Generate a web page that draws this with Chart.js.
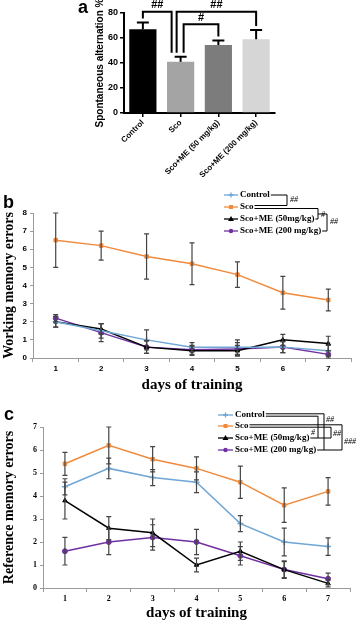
<!DOCTYPE html>
<html>
<head>
<meta charset="utf-8">
<script src="https://cdn.jsdelivr.net/npm/chart.js@4.4.1/dist/chart.umd.min.js"></script>
<style>
  body { margin: 0; background: #fff; width: 358px; height: 623px; position: relative; overflow: hidden; }
  canvas { position: absolute; left: 0; }
  .lbl { position: absolute; font: bold 18px "Liberation Sans", Arial, sans-serif; color: #000; }
</style>
</head>
<body>
<canvas id="chartA" width="358" height="185" style="top:0"></canvas>
<canvas id="chartB" width="358" height="210" style="top:185px"></canvas>
<canvas id="chartC" width="358" height="223" style="top:400px"></canvas>
<div class="lbl" style="left:78px;top:-3px">a</div>
<div class="lbl" style="left:3px;top:192px">b</div>
<div class="lbl" style="left:4px;top:404px">c</div>
<script>
// panel a - spontaneous alternation
const groups = ["Control", "Sco", "Sco+ME (50 mg/kg)", "Sco+ME (200 mg/kg)"];
const altMean = [67, 41, 54.5, 59];
const altErr = [5.5, 4, 3.5, 7.5];
const altTicks = [0, 20, 40, 60, 80];

// panels b, c
const days = ["1", "2", "3", "4", "5", "6", "7"];
const seriesNames = ["Control", "Sco", "Sco+ME (50mg/kg)", "Sco+ME (200 mg/kg)"];

const wmControl = [2.0, 1.5, 1.0, 0.6, 0.6, 0.6, 0.4];
const wmSco = [6.5, 6.2, 5.6, 5.2, 4.6, 3.6, 3.2];
const wmMe50 = [2.0, 1.6, 0.6, 0.4, 0.4, 1.0, 0.8];
const wmMe200 = [2.2, 1.4, 0.6, 0.45, 0.5, 0.6, 0.2];
const wmControlErr = [0.3, 0.4, 0.55, 0.25, 0.4, 0.3, 0.3];
const wmScoErr = [1.5, 0.8, 1.25, 1.15, 0.7, 0.9, 0.6];
const wmMe50Err = [0.3, 0.3, 0.35, 0.25, 0.3, 0.3, 0.4];
const wmMe200Err = [0.2, 0.5, 0.35, 0.25, 0.35, 0.3, 0.2];

const rmControl = [4.4, 5.2, 4.8, 4.6, 2.8, 2.0, 1.8];
const rmSco = [5.4, 6.2, 5.6, 5.2, 4.6, 3.6, 4.2];
const rmMe50 = [3.8, 2.6, 2.4, 1.0, 1.6, 0.8, 0.2];
const rmMe200 = [1.6, 2.0, 2.2, 2.0, 1.4, 0.8, 0.4];
const rmControlErr = [0.35, 0.45, 0.35, 0.45, 0.35, 0.6, 0.38];
const rmScoErr = [0.5, 0.8, 0.55, 0.5, 0.7, 0.75, 0.6];
const rmMe50Err = [0.8, 0.5, 0.6, 0.3, 0.4, 0.38, 0.15];
const rmMe200Err = [0.6, 0.55, 0.55, 0.55, 0.4, 0.35, 0.25];

const colors = ["#6fa6d6", "#f08a3c", "#000000", "#7030a0"];
const markers = ["cross", "rect", "triangle", "circle"];

const sans = '"Liberation Sans", Arial, sans-serif';
const serif = '"Liberation Serif", "Times New Roman", serif';

// error bars drawn from each dataset's err array
const errorBars = {
  id: "errorBars",
  afterDatasetsDraw(chart, args, opts) {
    const ctx = chart.ctx;
    const ys = chart.scales.y;
    chart.data.datasets.forEach((ds, i) => {
      if (!ds.err) return;
      const meta = chart.getDatasetMeta(i);
      ctx.save();
      ctx.strokeStyle = opts.color;
      ctx.lineWidth = opts.width;
      meta.data.forEach((el, j) => {
        const v = ds.data[j], e = ds.err[j];
        const top = ys.getPixelForValue(v + e);
        const bot = opts.upOnly ? el.y : ys.getPixelForValue(Math.max(v - e, 0));
        ctx.beginPath();
        ctx.moveTo(el.x, top); ctx.lineTo(el.x, bot);
        ctx.moveTo(el.x - opts.cap, top); ctx.lineTo(el.x + opts.cap, top);
        if (!opts.upOnly) { ctx.moveTo(el.x - opts.cap, bot); ctx.lineTo(el.x + opts.cap, bot); }
        ctx.stroke();
      });
      ctx.restore();
    });
  }
};

// significance brackets over the bars of panel a
const sigBrackets = {
  id: "sigBrackets",
  afterDraw(chart) {
    const ctx = chart.ctx, xs = chart.scales.x, ys = chart.scales.y;
    const items = [
      { a: 0, b: 1, da: 0, db: -9, top: 81, label: "##" },
      { a: 1, b: 3, da: -4, db: 0, top: 81, label: "##" },
      { a: 1, b: 2, da: 3, db: 0, top: 71, label: "#" }
    ];
    ctx.save();
    ctx.strokeStyle = "#000";
    ctx.lineWidth = 2;
    ctx.fillStyle = "#000";
    ctx.font = "bold 11px " + sans;
    ctx.textAlign = "center";
    ctx.textBaseline = "bottom";
    items.forEach(it => {
      const x1 = xs.getPixelForValue(it.a) + it.da;
      const x2 = xs.getPixelForValue(it.b) + it.db;
      const yt = ys.getPixelForValue(it.top);
      const y1 = ys.getPixelForValue(altMean[it.a] + altErr[it.a]) - 4;
      const y2 = ys.getPixelForValue(altMean[it.b] + altErr[it.b]) - 4;
      ctx.beginPath();
      ctx.moveTo(x1, y1); ctx.lineTo(x1, yt); ctx.lineTo(x2, yt); ctx.lineTo(x2, y2);
      ctx.stroke();
      ctx.fillText(it.label, (x1 + x2) / 2, yt - 1);
    });
    ctx.restore();
  }
};

// legend with bracket marks (panels b and c)
function bracketLegend(cfg) {
  return {
    id: "bracketLegend",
    afterDraw(chart) {
      const ctx = chart.ctx;
      ctx.save();
      ctx.font = "bold 9px " + serif;
      ctx.textBaseline = "middle";
      const ends = [];
      seriesNames.forEach((name, i) => {
        const y = cfg.rows[i];
        ctx.strokeStyle = colors[i];
        ctx.lineWidth = 1.3;
        ctx.beginPath(); ctx.moveTo(cfg.x0, y); ctx.lineTo(cfg.x1, y); ctx.stroke();
        ctx.fillStyle = colors[i];
        const mx = (cfg.x0 + cfg.x1) / 2;
        if (markers[i] === "rect") ctx.fillRect(mx - 2, y - 2, 4, 4);
        else if (markers[i] === "triangle") { ctx.beginPath(); ctx.moveTo(mx, y - 3); ctx.lineTo(mx + 3, y + 2); ctx.lineTo(mx - 3, y + 2); ctx.fill(); }
        else if (markers[i] === "circle") { ctx.beginPath(); ctx.arc(mx, y, 2.2, 0, Math.PI * 2); ctx.fill(); }
        else { ctx.beginPath(); ctx.moveTo(mx - 2.5, y); ctx.lineTo(mx + 2.5, y); ctx.moveTo(mx, y - 2.5); ctx.lineTo(mx, y + 2.5); ctx.stroke(); }
        ctx.fillStyle = "#000";
        ctx.textAlign = "left";
        ctx.fillText(name, cfg.tx, y);
        ends.push(cfg.tx + ctx.measureText(name).width + 1);
      });
      ctx.strokeStyle = "#000";
      ctx.lineWidth = 1;
      cfg.lines.forEach(l => {
        ctx.beginPath();
        ctx.moveTo(ends[l.r], cfg.rows[l.r] + l.dy);
        ctx.lineTo(l.to, cfg.rows[l.r] + l.dy);
        ctx.stroke();
      });
      cfg.segs.forEach(s => {
        ctx.beginPath(); ctx.moveTo(s[0], s[1]); ctx.lineTo(s[2], s[3]); ctx.stroke();
      });
      ctx.font = "italic 8px " + serif;
      ctx.fillStyle = "#000";
      cfg.marks.forEach(m => ctx.fillText(m[0], m[1], m[2]));
      ctx.restore();
    }
  };
}

new Chart(document.getElementById("chartA"), {
  type: "bar",
  data: {
    labels: groups,
    datasets: [{
      data: altMean,
      err: altErr,
      backgroundColor: ["#000000", "#a4a4a4", "#7c7c7c", "#d6d6d6"],
      borderWidth: 0,
      barPercentage: 0.72,
      categoryPercentage: 1
    }]
  },
  options: {
    responsive: false,
    animation: false,
    layout: { padding: { left: 92, right: 83, top: 13, bottom: 0 } },
    plugins: {
      legend: { display: false },
      tooltip: { enabled: false },
      errorBars: { color: "#000", width: 2, cap: 6, upOnly: true }
    },
    scales: {
      x: {
        grid: { display: true, drawOnChartArea: false, offset: false, color: "#000", tickLength: 4, lineWidth: 1.5 },
        border: { color: "#000", width: 2 },
        ticks: { color: "#000", font: { family: sans, size: 8, weight: "bold" }, minRotation: 45, maxRotation: 45, autoSkip: false, padding: 1 },
        afterFit(s) { s.height = 72; }
      },
      y: {
        min: 0, max: 80,
        afterBuildTicks(s) { s.ticks = altTicks.map(v => ({ value: v })); },
        grid: { drawOnChartArea: false, color: "#000", tickLength: 4, lineWidth: 1.5 },
        border: { color: "#000", width: 2 },
        ticks: { color: "#000", font: { family: sans, size: 9, weight: "bold" }, padding: 2 },
        title: { display: true, text: "Spontaneous alternation %", color: "#000", font: { family: sans, size: 10, weight: "bold" }, padding: { top: 2, bottom: 2 } },
        afterFit(s) { s.width = 32; }
      }
    }
  },
  plugins: [errorBars, sigBrackets]
});

function lineSets(vals, errs) {
  return vals.map((v, i) => ({
    label: seriesNames[i],
    data: v,
    err: errs[i],
    borderColor: colors[i],
    backgroundColor: colors[i],
    borderWidth: 1.5,
    pointStyle: markers[i],
    pointRadius: markers[i] === "cross" ? 3 : 2.5,
    pointBorderWidth: markers[i] === "cross" ? 1.5 : 1,
    tension: 0
  }));
}

function lineOptions(ymax, pad, yw, xh, tickFont, legendCfg) {
  return {
    responsive: false,
    animation: false,
    layout: { padding: pad },
    plugins: {
      legend: { display: false },
      tooltip: { enabled: false },
      errorBars: { color: "#444", width: 1.2, cap: 2.5, upOnly: false }
    },
    scales: {
      x: {
        type: "category",
        offset: true,
        grid: { drawOnChartArea: false, offset: true, color: "#9a9a9a", tickLength: 4 },
        border: { color: "#9a9a9a", width: 1 },
        ticks: { color: "#000", font: { family: tickFont, size: 8, weight: "bold" }, padding: 2 },
        title: { display: true, text: "days of training", color: "#000", font: { family: serif, size: 15, weight: "bold" }, padding: { top: 0, bottom: 1 } },
        afterFit(s) { s.height = xh; }
      },
      y: {
        min: 0, max: ymax,
        ticks: { stepSize: 1, color: "#000", font: { family: tickFont, size: 8, weight: "bold" }, padding: 3 },
        grid: { drawOnChartArea: false, color: "#9a9a9a", tickLength: 3 },
        border: { color: "#9a9a9a", width: 1 },
        title: { display: true, text: legendCfg.title, color: "#000", font: { family: serif, size: 14, weight: "bold" }, padding: { top: 1, bottom: 1 } },
        afterFit(s) { s.width = yw; }
      }
    }
  };
}

const legendB = {
  title: "Working memory errors",
  x0: 224, x1: 238, tx: 240,
  rows: [10, 22, 34, 46],
  lines: [
    { r: 0, to: 287, dy: 0 },
    { r: 1, to: 287, dy: -1.5 },
    { r: 1, to: 318, dy: 1.5 },
    { r: 2, to: 318, dy: 0 },
    { r: 3, to: 327, dy: 0 }
  ],
  segs: [[287, 10, 287, 20.5], [318, 23.5, 318, 34], [318, 29, 327, 29], [327, 29, 327, 46]],
  marks: [["##", 290, 15], ["#", 321, 30], ["##", 330, 37]]
};

const legendC = {
  title: "Reference memory errors",
  x0: 218, x1: 233, tx: 235,
  rows: [15, 26, 38, 50],
  lines: [
    { r: 0, to: 318, dy: 1.2 },
    { r: 0, to: 324, dy: -1.2 },
    { r: 1, to: 331, dy: 1.2 },
    { r: 1, to: 342, dy: -1.2 },
    { r: 2, to: 331, dy: 0 },
    { r: 3, to: 342, dy: 0 }
  ],
  segs: [[318, 16.2, 318, 38], [324, 13.8, 324, 50], [331, 27.2, 331, 38], [342, 24.8, 342, 50]],
  marks: [["#", 311, 33], ["##", 326, 20], ["##", 333, 34], ["###", 344, 42]]
};

new Chart(document.getElementById("chartB"), {
  type: "line",
  data: {
    labels: days,
    datasets: lineSets([wmControl, wmSco, wmMe50, wmMe200], [wmControlErr, wmScoErr, wmMe50Err, wmMe200Err])
  },
  options: lineOptions(8, { left: 0, right: 7, top: 28, bottom: 0 }, 33, 37, sans, legendB),
  plugins: [errorBars, bracketLegend(legendB)]
});

new Chart(document.getElementById("chartC"), {
  type: "line",
  data: {
    labels: days,
    datasets: lineSets([rmControl, rmSco, rmMe50, rmMe200], [rmControlErr, rmScoErr, rmMe50Err, rmMe200Err])
  },
  options: lineOptions(7, { left: 0, right: 8, top: 27, bottom: 0 }, 43, 35, serif, legendC),
  plugins: [errorBars, bracketLegend(legendC)]
});
</script>
</body>
</html>
